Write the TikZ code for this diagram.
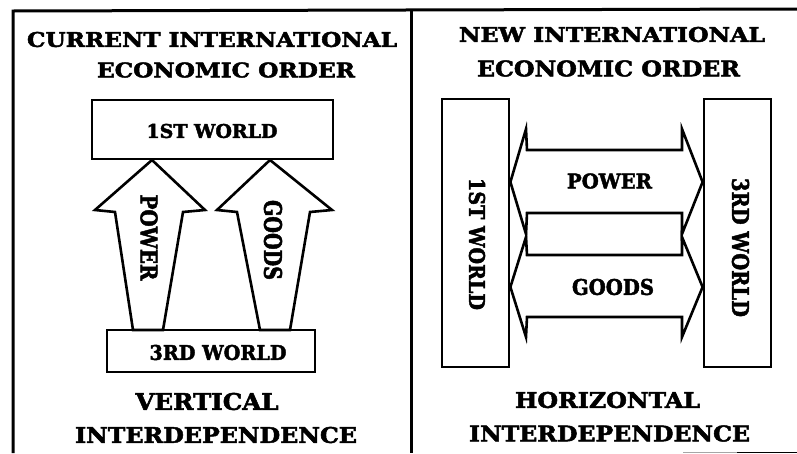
\documentclass[tikz,border=0pt]{standalone}
\usepackage{fontspec}
\usepackage{graphicx}
\setmainfont{DejaVu Serif}[BoldFont={DejaVu Serif Bold},BoldFeatures={FakeBold=2.2}]
% bold caps label stretched to a given width and cap height (in pt)
\newcommand\capsfit[3]{\resizebox{#1pt}{#2pt}{\bfseries #3}}
\begin{document}
\begin{tikzpicture}[x=1pt,y=-1pt,
  frameline/.style={line width=3pt},
  worldbox/.style={draw,line width=2.8pt,fill=white},
  flowarrow/.style={draw,line width=2.6pt,fill=white,line join=miter},
  lbl/.style={inner sep=0pt,outer sep=0pt}]
\useasboundingbox (0,0) rectangle (797,453);

% outer frame and divider
\coordinate (tl) at (13,11);
\coordinate (tr) at (797,9);
\coordinate (bl) at (13,453);
\coordinate (dt) at (411,10);
\coordinate (db) at (411,453);
\draw[frameline] (bl) -- (tl) -- (tr);
\draw[frameline] (dt) -- (db);
\coordinate (bgA) at (683,452.5);
\coordinate (bgB) at (737,452.5);
\coordinate (bgC) at (797,452.5);
\draw[line width=1pt,black!35] (bgA) -- (bgB);
\draw[line width=1pt] (bgB) -- (bgC);

% ---------- left panel: current order ----------
\node[lbl] (ltitle1) at (212,39.5) {\capsfit{370}{15}{CURRENT INTERNATIONAL}};
\node[lbl] (ltitle2) at (226,70) {\capsfit{258}{15}{ECONOMIC ORDER}};

\node[worldbox,minimum width=241pt,minimum height=59pt,inner sep=0pt] (lw1) at (212.5,129.5) {};
\node[lbl] (lw1t) at (212,131) {\capsfit{131}{14}{1ST WORLD}};

\node[worldbox,minimum width=208pt,minimum height=42pt,inner sep=0pt] (lw3) at (211,351) {};
\node[lbl] (lw3t) at (218,352.5) {\capsfit{137}{15}{3RD WORLD}};

% upward arrows from the 3rd world to the 1st world
\draw[flowarrow] (152,160) -- (205,210) -- (183,212) -- (163,330)
  -- (133,330) -- (115,212) -- (95,210) -- cycle;
\draw[flowarrow] (270,160) -- (332,210) -- (310,212) -- (290,330)
  -- (260,330) -- (237,212) -- (217,210) -- cycle;
\node[lbl,rotate=-90] (lpow) at (149,237.5) {\capsfit{86}{17}{POWER}};
\node[lbl,rotate=-90] (lgoo) at (273,240) {\capsfit{80}{18}{GOODS}};

\node[lbl] (lsub1) at (207,401.5) {\capsfit{143}{17}{VERTICAL}};
\node[lbl] (lsub2) at (216,435) {\capsfit{282}{16}{INTERDEPENDENCE}};

% ---------- right panel: new order ----------
\node[lbl] (rtitle1) at (612,34.5) {\capsfit{306}{15}{NEW INTERNATIONAL}};
\node[lbl] (rtitle2) at (608.5,68.5) {\capsfit{263}{16}{ECONOMIC ORDER}};

\node[worldbox,minimum width=67pt,minimum height=268pt,inner sep=0pt] (rw1) at (475.5,233) {};
\node[worldbox,minimum width=67pt,minimum height=268pt,inner sep=0pt] (rw3) at (737.5,233) {};
\node[lbl,rotate=-90] (rw1t) at (477,244) {\capsfit{132}{16}{1ST WORLD}};
\node[lbl,rotate=-90] (rw3t) at (740.5,247.5) {\capsfit{139}{17}{3RD WORLD}};

% two-headed arrows between the two worlds
\draw[flowarrow] (rw1.east |- 0,182) -- (526,129) -- (527,150) -- (682,150)
  -- (682,129) -- (rw3.west |- 0,182) -- (682,234) -- (682,213)
  -- (527,213) -- (526,234) -- cycle;
\draw[flowarrow] (rw1.east |- 0,287) -- (526,237) -- (527,255) -- (682,255)
  -- (682,237) -- (rw3.west |- 0,287) -- (682,337) -- (682,317)
  -- (527,317) -- (526,337) -- cycle;
\node[lbl] (rpow) at (609.5,181) {\capsfit{85}{15}{POWER}};
\node[lbl] (rgoo) at (613,287) {\capsfit{82}{16}{GOODS}};

\node[lbl] (rsub1) at (607.5,400) {\capsfit{185}{16}{HORIZONTAL}};
\node[lbl] (rsub2) at (609.5,433.5) {\capsfit{281}{16}{INTERDEPENDENCE}};
\end{tikzpicture}
\end{document}
